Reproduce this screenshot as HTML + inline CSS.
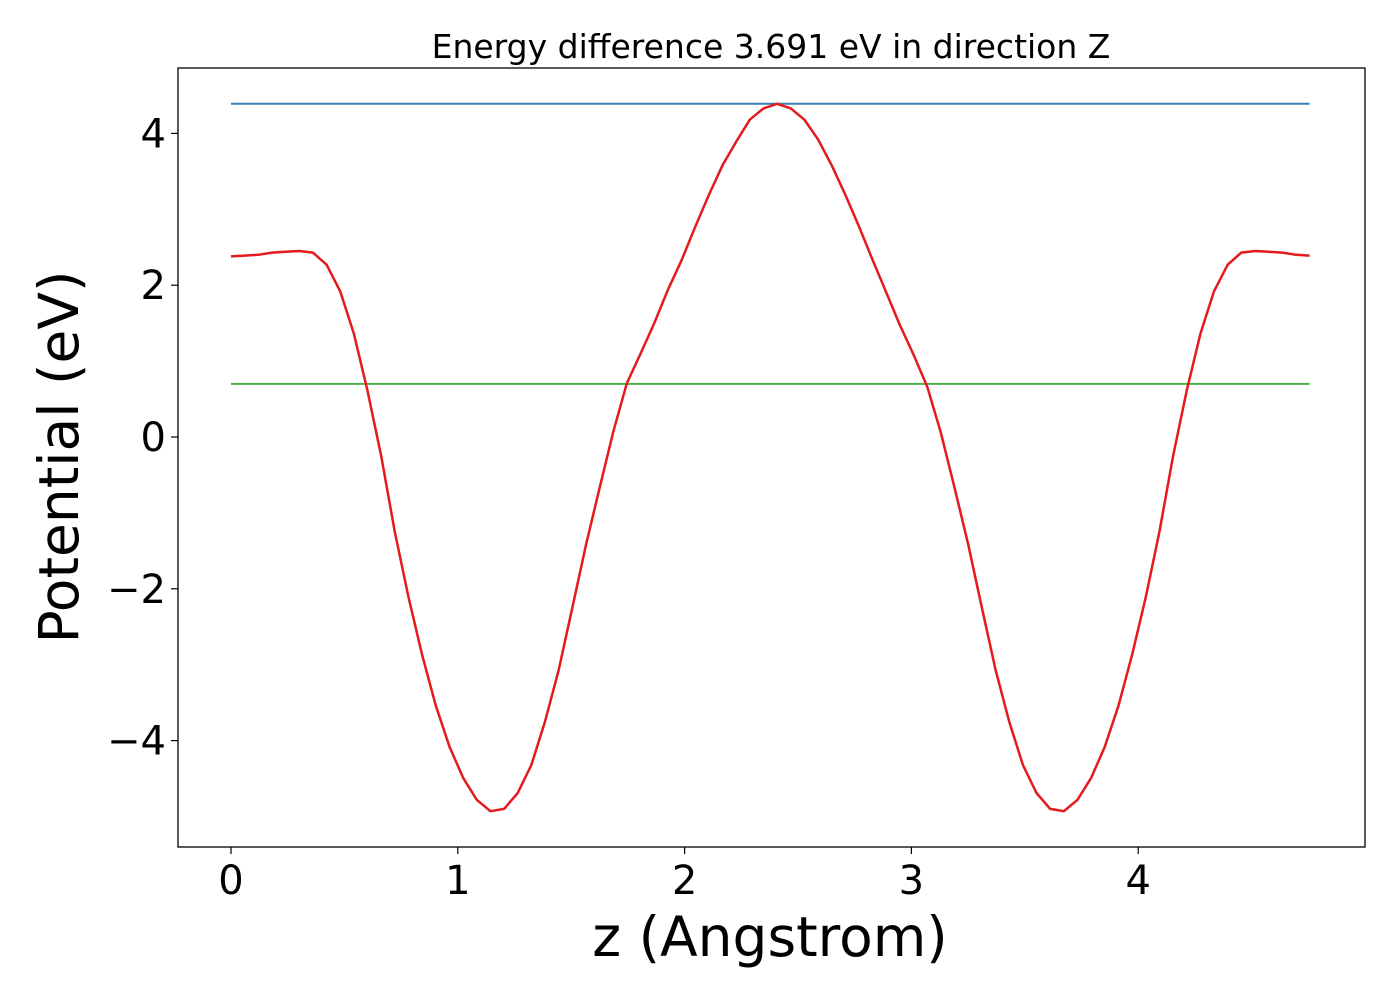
<!DOCTYPE html>
<html><head><meta charset="utf-8"><style>
html,body{margin:0;padding:0;background:#fff;}
svg text{font-family:"DejaVu Sans","Liberation Sans",sans-serif;fill:#000;}
</style></head><body>
<svg width="1400" height="1000" viewBox="0 0 1400 1000" xmlns="http://www.w3.org/2000/svg">
<g id="plot"></g>
</svg>
<script>
const potential = [2.38,2.39,2.40,2.43,2.44,2.45,2.43,2.27,1.92,1.36,0.61,-0.25,-1.25,-2.11,-2.87,-3.54,-4.08,-4.49,-4.78,-4.93,-4.90,-4.69,-4.32,-3.75,-3.07,-2.25,-1.42,-0.67,0.07,0.71,1.10,1.50,1.94,2.33,2.77,3.19,3.58,3.89,4.18,4.33,4.39,4.33,4.18,3.92,3.58,3.19,2.77,2.33,1.90,1.47,1.08,0.66,0.05,-0.67,-1.42,-2.25,-3.07,-3.75,-4.32,-4.69,-4.90,-4.93,-4.78,-4.49,-4.08,-3.54,-2.87,-2.11,-1.25,-0.25,0.61,1.36,1.92,2.27,2.43,2.45,2.44,2.43,2.40,2.39];
const zStep = 0.0602;
const maxLevel = 4.39;
const fermiLevel = 0.70;
const xTicks = [0,1,2,3,4];
const yTicks = [4,2,0,-2,-4];
const xTickLabels = ["0","1","2","3","4"];
const yTickLabels = ["4","2","0","\u22122","\u22124"];

const L=178,R=1365,T=68,B=847;
const sx = v => 231 + v*226.8;
const sy = v => 437 - v*75.9;
const NS="http://www.w3.org/2000/svg";
const g=document.getElementById('plot');
function mk(tag,attrs,parent){const e=document.createElementNS(NS,tag);for(const k in attrs)e.setAttribute(k,attrs[k]);(parent||g).appendChild(e);return e;}

const zs = potential.map((_,i)=>i*zStep);
const x0=sx(0), x1=sx(zs[zs.length-1]);

let e=mk('line',{x1:x0,x2:x1,y1:sy(maxLevel),y2:sy(maxLevel),stroke:'#377eb8','stroke-width':2});


e=mk('line',{x1:x0,x2:x1,y1:sy(fermiLevel),y2:sy(fermiLevel),stroke:'#4daf4a','stroke-width':2});


e=mk('polyline',{points:potential.map((v,i)=>sx(zs[i]).toFixed(1)+','+sy(v).toFixed(1)).join(' '),fill:'none',stroke:'#e41a1c','stroke-width':2.5,'stroke-linejoin':'round'});



e=mk('rect',{x:L,y:T,width:R-L,height:B-T,fill:'none',stroke:'#000','stroke-width':1.3});



xTicks.forEach((t,i)=>{
  let l=mk('line',{x1:sx(t),x2:sx(t),y1:B,y2:B+7,stroke:'#000','stroke-width':1.2});
  
  
  let tx=mk('text',{x:sx(t),y:894,'text-anchor':'middle','font-size':40});
  tx.textContent=xTickLabels[i];
  
  
});
yTicks.forEach((t,i)=>{
  let l=mk('line',{x1:L-7,x2:L,y1:sy(t),y2:sy(t),stroke:'#000','stroke-width':1.2});
  
  
  let tx=mk('text',{x:L-12,y:sy(t)+14,'text-anchor':'end','font-size':40});
  tx.textContent=yTickLabels[i];
  
  
});
e=mk('text',{x:771,y:58,'text-anchor':'middle','font-size':33});
e.textContent='Energy difference 3.691 eV in direction Z';


e=mk('text',{x:770,y:956,'text-anchor':'middle','font-size':55});
e.textContent='z (Angstrom)';


e=mk('text',{x:0,y:0,'text-anchor':'middle','font-size':55,transform:'translate(78,457) rotate(-90)'});
e.textContent='Potential (eV)';


</script>
</body></html>
